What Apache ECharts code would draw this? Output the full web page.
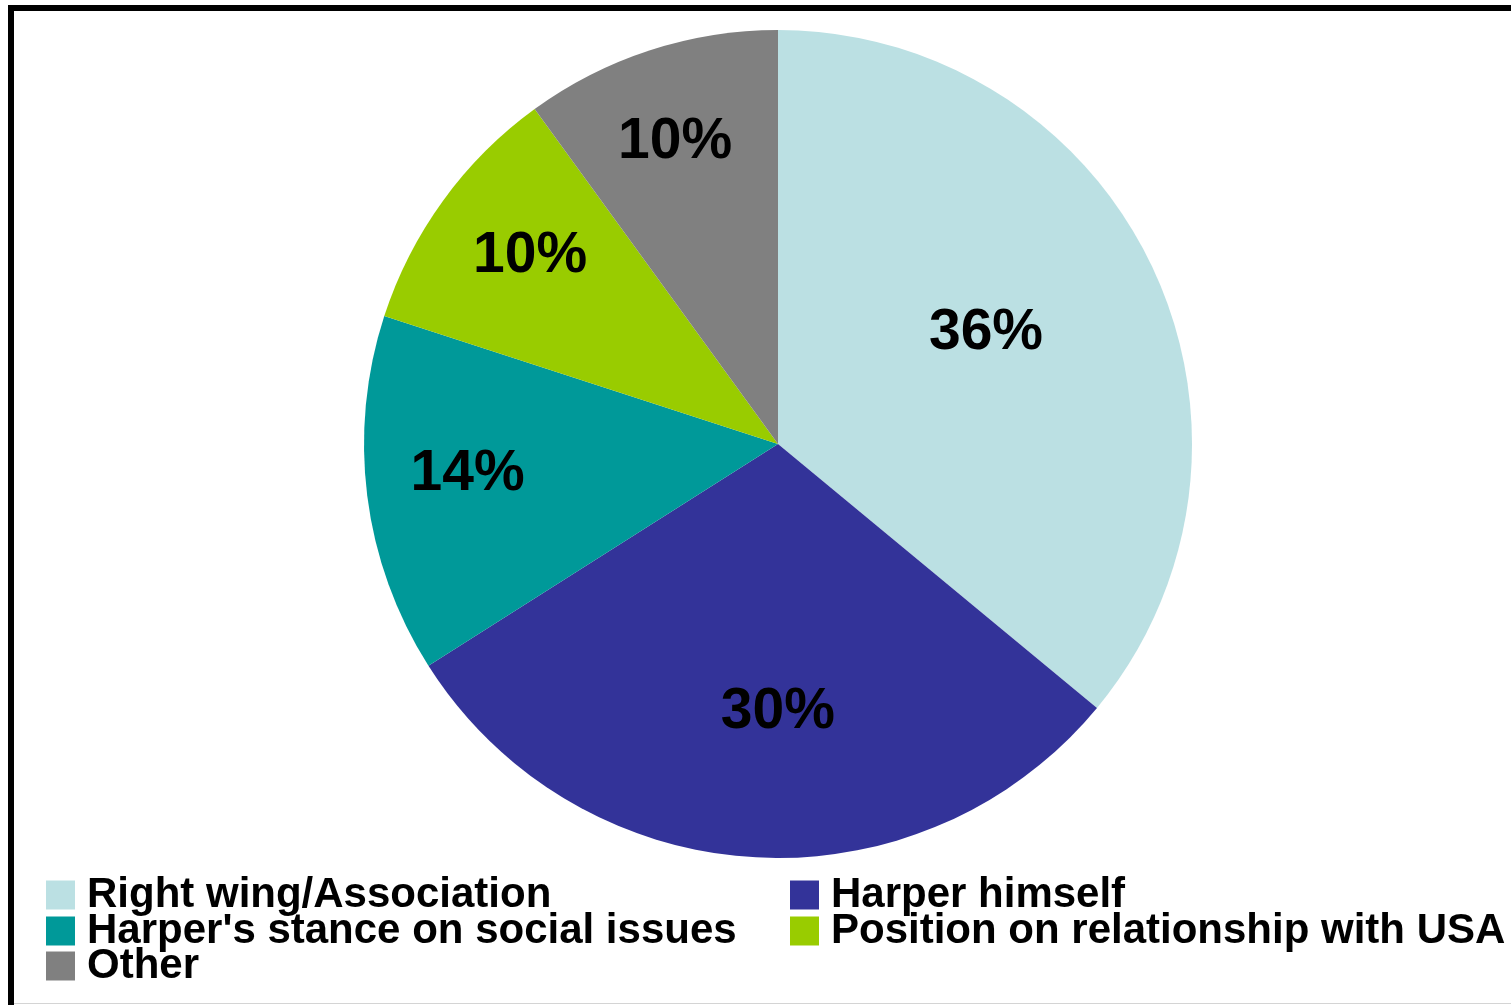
<!DOCTYPE html>
<html>
<head>
<meta charset="utf-8">
<script src="https://cdn.jsdelivr.net/npm/echarts@6/dist/echarts.min.js"></script>
<style>
  html, body { margin: 0; padding: 0; background: #fff; }
  #chart { width: 1511px; height: 1005px; }
</style>
</head>
<body>
<div id="chart"></div>
<script>
const categories = [
  'Right wing/Association',
  'Harper himself',
  "Harper's stance on social issues",
  'Position on relationship with USA',
  'Other'
]
const shares = [36, 30, 14, 10, 10]
const colors = ['#BBE0E3', '#333399', '#009999', '#99CC00', '#808080']
// label nudges so the percentages sit where the original puts them
const labelOffsets = [[18, -21], [13, 59], [-102, 4], [-78, -64], [-38, -102]]
// legend slots: [left, top] for each category, two columns
const legendSlots = [[46, 874], [790, 874], [46, 910], [790, 910], [46, 945]]

const chart = echarts.init(document.getElementById('chart'))

const legends = categories.map((name, i) => ({
  left: legendSlots[i][0],
  top: legendSlots[i][1],
  orient: 'horizontal',
  icon: 'rect',
  itemWidth: 29,
  itemHeight: 29,
  selectedMode: false,
  padding: 0,
  data: [name],
  textStyle: {
    color: '#000',
    fontSize: 42,
    fontWeight: 'bold',
    fontFamily: 'Liberation Sans, Arial, sans-serif',
    padding: [0, 0, 0, 7]
  }
}))

chart.setOption({
  backgroundColor: '#fff',
  animation: false,
  color: colors,
  graphic: [
    { type: 'rect', shape: { x: 8, y: 5, width: 1503, height: 6 }, style: { fill: '#000' } },
    { type: 'rect', shape: { x: 8, y: 5, width: 6, height: 1000 }, style: { fill: '#000' } },
    { type: 'rect', shape: { x: 14, y: 1003, width: 1497, height: 1 }, style: { fill: '#d4d4d4' } }
  ],
  legend: legends,
  series: [
    {
      type: 'pie',
      center: [778, 444],
      radius: 414,
      startAngle: 90,
      clockwise: true,
      avoidLabelOverlap: false,
      label: {
        show: true,
        position: 'inside',
        formatter: '{d}%',
        color: '#000',
        fontSize: 57,
        fontWeight: 'bold',
        fontFamily: 'Liberation Sans, Arial, sans-serif'
      },
      labelLine: { show: false },
      itemStyle: { borderWidth: 0 },
      emphasis: { disabled: true },
      data: categories.map((name, i) => ({
        name: name,
        value: shares[i],
        label: { offset: labelOffsets[i] }
      }))
    }
  ]
})
</script>
</body>
</html>
